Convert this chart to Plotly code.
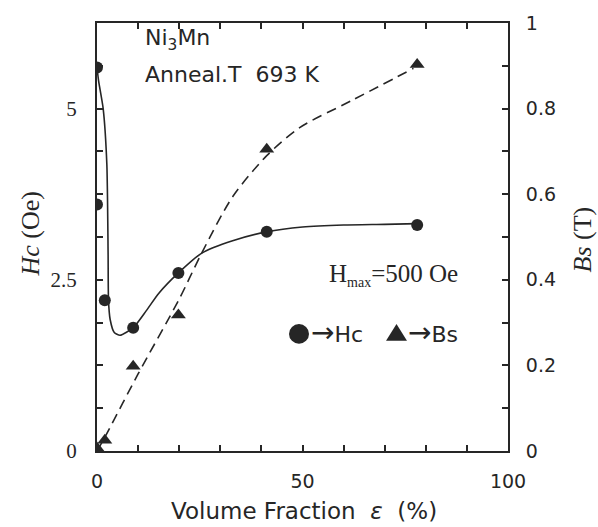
import plotly.graph_objects as go

hc_x = [0, 0, 1.9, 8.8, 19.8, 41.3, 77.9]
hc_y = [5.6, 3.6, 2.2, 1.8, 2.6, 3.2, 3.3]
bs_x = [0, 1.9, 8.8, 19.8, 41.3, 77.9]
bs_y = [0.007, 0.025, 0.198, 0.318, 0.705, 0.903]

# Fitted curves
hc_fit_x = [0, 0.4, 1.5, 2.4, 2.7, 2.8, 3.2, 4.2, 5.6, 8.8, 12, 15, 19.8, 25.5, 33, 41.3, 50, 60, 70, 77.9]
hc_fit_y = [5.6, 5.4, 5.0, 4.18, 2.89, 2.2, 1.92, 1.73, 1.69, 1.8, 2.05, 2.3, 2.6, 2.89, 3.07, 3.2, 3.27, 3.3, 3.31, 3.32]
bs_fit_x = [0, 1.5, 10, 20, 25.5, 33, 41.3, 49.4, 61.6, 77]
bs_fit_y = [0, 0.025, 0.18, 0.355, 0.463, 0.594, 0.69, 0.756, 0.817, 0.894]

x_ticks = [0, 10, 20, 30, 40, 50, 60, 70, 80, 90, 100]
x_ticktext = ["0", "", "", "", "", "50", "", "", "", "", "100"]
hc_ticks = [0, 0.625, 1.25, 1.875, 2.5, 3.125, 3.75, 4.375, 5, 5.625, 6.25]
hc_ticktext = ["0", "", "", "", "2.5", "", "", "", "5", "", ""]
bs_ticks = [0, 0.1, 0.2, 0.3, 0.4, 0.5, 0.6, 0.7, 0.8, 0.9, 1.0]
bs_ticktext = ["0", "", "0.2", "", "0.4", "", "0.6", "", "0.8", "", "1"]

INK = "#262626"
SANS = "Liberation Sans, Arial, sans-serif"
WIDE = "DejaVu Sans, Verdana, sans-serif"
SERIF = "Liberation Serif, Times New Roman, serif"

fig = go.Figure()
fig.add_trace(go.Scatter(x=hc_fit_x, y=hc_fit_y, mode="lines",
                         line=dict(color=INK, width=1.6, shape="spline", smoothing=0.6),
                         showlegend=False, hoverinfo="skip"))
fig.add_trace(go.Scatter(x=bs_fit_x, y=bs_fit_y, mode="lines", yaxis="y2",
                         line=dict(color=INK, width=1.6, dash="10px,6px", shape="spline", smoothing=0.8),
                         showlegend=False, hoverinfo="skip"))
fig.add_trace(go.Scatter(x=hc_x, y=hc_y, mode="markers",
                         marker=dict(symbol="circle", size=12, color=INK),
                         showlegend=False))
fig.add_trace(go.Scatter(x=bs_x, y=bs_y, mode="markers", yaxis="y2",
                         marker=dict(symbol="triangle-up", size=13, color=INK),
                         showlegend=False))

def px(x):
    return (x - 97) / 411.0

def py(y):
    return (451 - y) / 435.0

ann = []
ann.append(dict(x=px(143), y=py(33), xref="paper", yref="paper", xanchor="left", yanchor="middle",
                text="Ni<sub>3</sub>Mn", showarrow=False, font=dict(family=WIDE, size=22, color=INK)))
ann.append(dict(x=px(143), y=py(68), xref="paper", yref="paper", xanchor="left", yanchor="middle",
                text="Anneal.T&nbsp;&nbsp;693 K", showarrow=False, font=dict(family=WIDE, size=22, color=INK)))
ann.append(dict(x=px(327), y=py(272), xref="paper", yref="paper", xanchor="left", yanchor="middle",
                text="H<sub><span style='font-size:14px'>max</span></sub>=500 Oe", showarrow=False,
                font=dict(family=SERIF, size=25, color=INK)))
ann.append(dict(x=px(309), y=py(331), xref="paper", yref="paper", xanchor="left", yanchor="middle",
                text="<span style='font-size:28px'>→</span>Hc", showarrow=False,
                font=dict(family=WIDE, size=22, color=INK)))
ann.append(dict(x=px(406), y=py(331), xref="paper", yref="paper", xanchor="left", yanchor="middle",
                text="<span style='font-size:28px'>→</span>Bs", showarrow=False,
                font=dict(family=WIDE, size=22, color=INK)))
ann.append(dict(x=px(304), y=py(512), xref="paper", yref="paper", xanchor="center", yanchor="middle",
                text="Volume Fraction&nbsp;&nbsp;<i>ε</i>&nbsp;&nbsp;(%)", showarrow=False,
                font=dict(family=WIDE, size=23, color=INK)))
ann.append(dict(x=px(31), y=py(231), xref="paper", yref="paper", xanchor="center", yanchor="middle",
                text="<i>Hc</i> (Oe)", textangle=-90, showarrow=False,
                font=dict(family=SERIF, size=26, color=INK)))
ann.append(dict(x=px(582), y=py(236), xref="paper", yref="paper", xanchor="center", yanchor="middle",
                text="<i>Bs</i> (T)", textangle=-90, showarrow=False,
                font=dict(family=SERIF, size=26, color=INK)))

shapes = [
    dict(type="circle", xref="paper", yref="paper",
         x0=px(289), x1=px(309), y0=py(342), y1=py(322),
         fillcolor=INK, line=dict(width=0)),
    dict(type="path", xref="paper", yref="paper",
         path="M {} {} L {} {} L {} {} Z".format(px(386), py(339), px(407), py(339), px(396.5), py(322)),
         fillcolor=INK, line=dict(width=0)),
]

fig.update_layout(
    width=598, height=527,
    margin=dict(l=97, r=90, t=16, b=76),
    paper_bgcolor="white", plot_bgcolor="white",
    showlegend=False,
    annotations=ann,
    shapes=shapes,
    xaxis=dict(range=[0, 100], tickvals=x_ticks, ticktext=x_ticktext,
               ticks="inside", ticklen=6, tickwidth=1.5, tickcolor=INK,
               showline=True, linecolor=INK, linewidth=2, mirror="ticks",
               showgrid=False, zeroline=False, ticklabelstandoff=12,
               tickfont=dict(family=WIDE, size=19, color=INK)),
    yaxis=dict(range=[0, 6.25], tickvals=hc_ticks, ticktext=hc_ticktext,
               ticks="inside", ticklen=6, tickwidth=1.5, tickcolor=INK,
               showline=True, linecolor=INK, linewidth=2, mirror=False,
               showgrid=False, zeroline=False, ticklabelstandoff=14,
               tickfont=dict(family=SERIF, size=21, color=INK)),
    yaxis2=dict(range=[0, 1], tickvals=bs_ticks, ticktext=bs_ticktext, overlaying="y", side="right",
                ticks="inside", ticklen=6, tickwidth=1.5, tickcolor=INK,
                showline=True, linecolor=INK, linewidth=2,
                showgrid=False, zeroline=False, ticklabelstandoff=12,
                tickfont=dict(family=WIDE, size=19, color=INK)),
)

fig.write_html("out.html")
